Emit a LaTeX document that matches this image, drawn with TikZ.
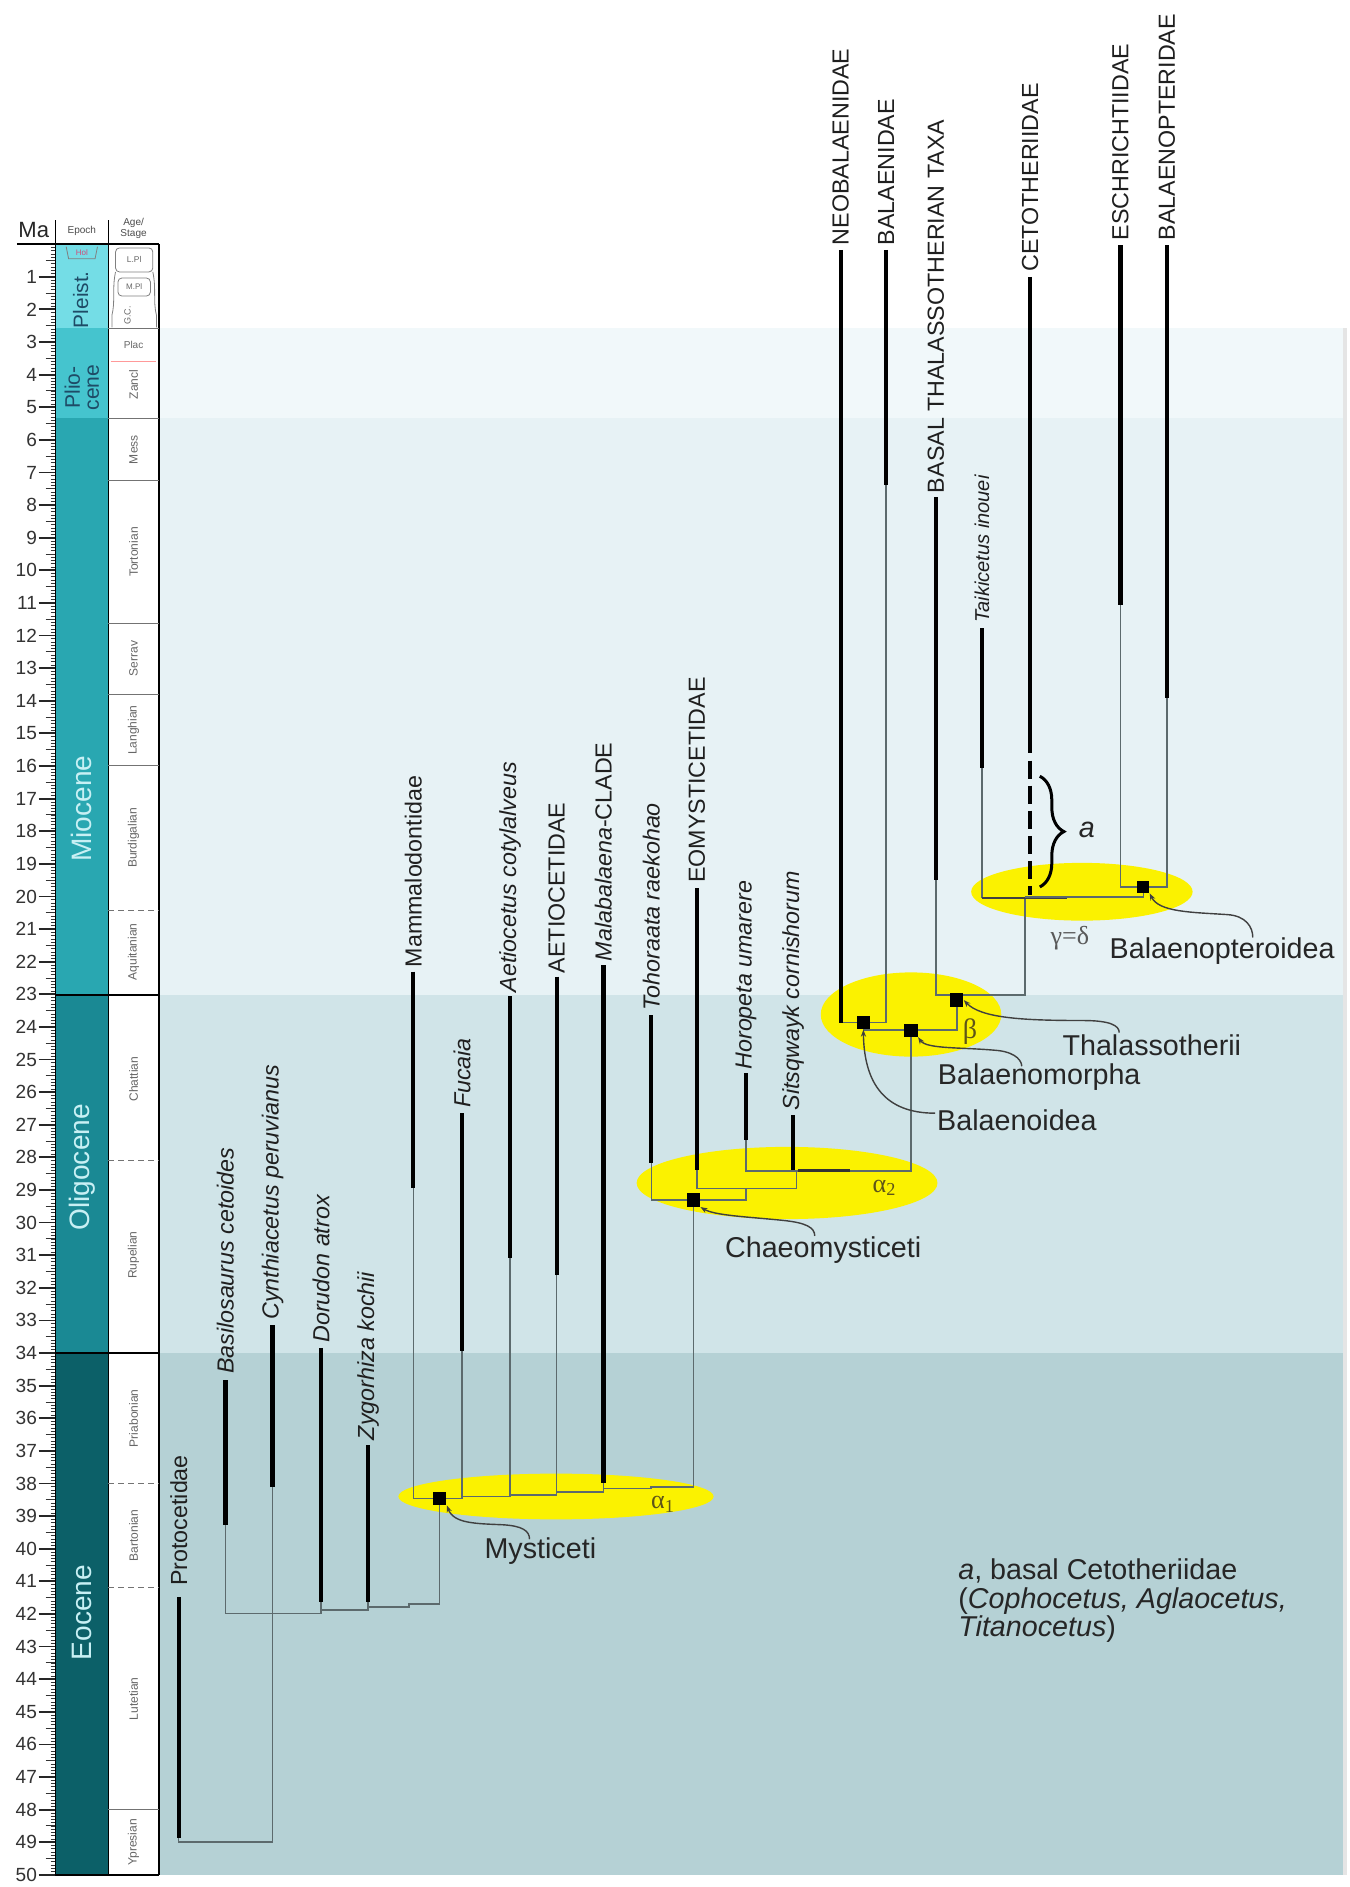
\documentclass[tikz,border=0pt]{standalone}
\usepackage{fontspec}
\setmainfont{Liberation Sans}
\newfontfamily\grk{Liberation Serif}
\usetikzlibrary{decorations.pathreplacing,arrows.meta}
\definecolor{pleist}{HTML}{74DDE6}
\definecolor{plio}{HTML}{45C4CE}
\definecolor{mio}{HTML}{29A7B1}
\definecolor{olig}{HTML}{1A8994}
\definecolor{eoc}{HTML}{0C6068}
\definecolor{bgplio}{HTML}{F1F8FA}
\definecolor{bgmio}{HTML}{E7F2F5}
\definecolor{bgolig}{HTML}{D0E4E8}
\definecolor{bgeoc}{HTML}{B5D1D5}
\definecolor{lncol}{HTML}{5C6A6D}
\definecolor{yel}{HTML}{FBF200}
\definecolor{grkc}{HTML}{5E5518}
\definecolor{epdark}{HTML}{1E4B66}
\definecolor{eplight}{HTML}{C8F0F4}
\def\mya#1{{202.9+27.1*#1}}
\tikzset{
  thk/.style={line width=2.1pt, black},
  thn/.style={line width=0.75pt, lncol},
  taxon/.style={rotate=90, anchor=west, inner sep=0pt, font=\fontsize{11.6}{13}\selectfont, text=black!88},
  itx/.style={taxon, font=\fontsize{11.6}{13}\selectfont\itshape},
  sq/.style={fill=black, inner sep=0pt, minimum size=6.6pt},
  nlab/.style={font=\fontsize{14.3}{14}\selectfont, text=black!85, inner sep=0pt},
  lead/.style={line width=0.7pt, draw=black!75, {Stealth[length=3.5pt,width=2.6pt]}-},
  grkl/.style={font=\grk\fontsize{13}{14}\selectfont, text=grkc, inner sep=0pt},
  stg/.style={font=\fontsize{6}{7}\selectfont, text=black!60, inner sep=0pt},
  eplab/.style={rotate=90, font=\fontsize{14}{15}\selectfont, text=eplight, inner sep=0pt}
}
\begin{document}
\begin{tikzpicture}[x=0.6pt,y=-0.6pt]
\useasboundingbox (0,0) rectangle (1121,1568);
\fill[white] (0,0) rectangle (1121,1568);
% background bands
\fill[bgplio] (132,\mya{2.58}) rectangle (1116,\mya{5.33});
\fill[bgmio] (132,\mya{5.33}) rectangle (1116,\mya{23.03});
\fill[bgolig] (132,\mya{23.03}) rectangle (1116,\mya{34});
\fill[bgeoc] (132,\mya{34}) rectangle (1116,\mya{50});
\fill[black!10] (1116,\mya{2.58}) rectangle (1119.5,\mya{50});
% epoch column
\fill[pleist] (46,\mya{0}) rectangle (90,\mya{2.58});
\fill[plio] (46,\mya{2.58}) rectangle (90,\mya{5.33});
\fill[mio] (46,\mya{5.33}) rectangle (90,\mya{23.03});
\fill[olig] (46,\mya{23.03}) rectangle (90,\mya{34});
\fill[eoc] (46,\mya{34}) rectangle (90,\mya{50});
% ticks
\foreach \i in {1,...,499} \draw[line width=0.35pt, black!80] (42,{202.9+2.71*\i}) -- (46,{202.9+2.71*\i});
\foreach \i in {0,...,49} \draw[line width=0.45pt, black!80] (38,{202.9+27.1*(\i+0.5)}) -- (46,{202.9+27.1*(\i+0.5)});
\foreach \i in {1,...,50} {
  \draw[line width=0.9pt, black!85] (32,\mya{\i}) -- (46,\mya{\i});
  \node[anchor=east, font=\fontsize{9.5}{10}\selectfont, text=black!80, inner sep=0pt] at (31,\mya{\i}) {\i};
}
% column frames
\draw[line width=0.8pt] (46,183) -- (46,\mya{50});
\draw[line width=0.8pt] (90,183) -- (90,\mya{50});
\draw[line width=0.8pt] (132,\mya{0}) -- (132,\mya{50});
\draw[line width=1pt] (14,\mya{0}) -- (132,\mya{0});
\draw[line width=0.8pt] (46,\mya{50}) -- (132,\mya{50});
\draw[line width=0.8pt] (46,\mya{23.03}) -- (132,\mya{23.03});
\draw[line width=0.8pt] (46,\mya{34}) -- (132,\mya{34});
% stage boundaries
\foreach \m in {2.58,5.33,7.25,11.63,13.82,15.97,48} \draw[line width=0.5pt, black!55] (90,\mya{\m}) -- (132,\mya{\m});
\draw[line width=0.5pt, red!40] (92,\mya{3.6}) -- (130,\mya{3.6});
\foreach \m in {20.44,28.1,38,41.2} \draw[line width=0.5pt, black!55, dash pattern=on 3pt off 2pt] (90,\mya{\m}) -- (132,\mya{\m});
% header
\node[font=\fontsize{11}{12}\selectfont, text=black!85, inner sep=0pt] (hma) at (28,191) {Ma};
\node[font=\fontsize{5}{6}\selectfont, text=black!70, inner sep=0pt] (hep) at (68,192) {Epoch};
\node[font=\fontsize{5}{5.5}\selectfont, text=black!70, inner sep=0pt, align=center] (hst) at (111,190) {Age/\\Stage};
% holocene and pleistocene stage marks
\draw[line width=0.4pt, black!50] (55,205) -- (57,215) -- (79,215) -- (81,205);
\node[font=\fontsize{4}{4}\selectfont, text=purple!70, inner sep=0pt] (hol) at (68,210) {Hol};
\draw[line width=0.4pt, black!50, rounded corners=2pt] (96,206) rectangle (127,226);
\node[font=\fontsize{4.2}{4}\selectfont, text=black!60, inner sep=0pt] (lpl) at (111.5,216) {L.Pl};
\draw[line width=0.4pt, black!50, rounded corners=2pt] (98,231) rectangle (125,246);
\node[font=\fontsize{4}{4}\selectfont, text=black!60, inner sep=0pt] (mpl) at (111.5,238.5) {M.Pl};
\draw[line width=0.4pt, black!50] (96,226) .. controls (93,240) and (96,250) .. (93,262) -- (93,272);
\draw[line width=0.4pt, black!50] (127,226) .. controls (130,240) and (127,250) .. (130,262) -- (130,272);
\node[stg, rotate=90, font=\fontsize{4.5}{4}\selectfont] (gc) at (106,262) {G.C.};
% stage labels
\node[stg, font=\fontsize{5}{6}\selectfont] (s1) at (111,\mya{3.1}) {Plac};
\node[stg, rotate=90] (s2) at (111,\mya{4.3}) {Zancl};
\node[stg, rotate=90] (s3) at (111,\mya{6.3}) {Mess};
\node[stg, rotate=90] (s4) at (111,\mya{9.44}) {Tortonian};
\node[stg, rotate=90] (s5) at (111,\mya{12.7}) {Serrav};
\node[stg, rotate=90] (s6) at (111,\mya{14.9}) {Langhian};
\node[stg, rotate=90] (s7) at (111,\mya{18.2}) {Burdigalian};
\node[stg, rotate=90] (s8) at (111,\mya{21.7}) {Aquitanian};
\node[stg, rotate=90] (s9) at (111,\mya{25.6}) {Chattian};
\node[stg, rotate=90] (s10) at (111,\mya{31}) {Rupelian};
\node[stg, rotate=90] (s11) at (111,\mya{36}) {Priabonian};
\node[stg, rotate=90] (s12) at (111,\mya{39.6}) {Bartonian};
\node[stg, rotate=90] (s13) at (111,\mya{44.6}) {Lutetian};
\node[stg, rotate=90] (s14) at (111,\mya{49}) {Ypresian};
% epoch labels
\node[eplab, text=epdark, font=\fontsize{10.4}{11}\selectfont] (e1) at (67,249) {Pleist.};
\node[eplab, text=epdark, font=\fontsize{10.5}{9.5}\selectfont, align=center] (e2) at (68,322) {Plio-\\cene};
\node[eplab] (e3) at (68,672) {Miocene};
\node[eplab] (e4) at (68,970) {Oligocene};
\node[eplab] (e5) at (68,1340) {Eocene};
% yellow ellipses
\fill[yel] (462,1243.5) ellipse [x radius=78.6pt, y radius=11.4pt];
\fill[yel] (654,983) ellipse [x radius=75pt, y radius=18pt];
\fill[yel] (757,843) ellipse [x radius=45pt, y radius=21pt];
\fill[yel] (899,741) ellipse [x radius=55.2pt, y radius=14.4pt];
% thin branches
\draw[thn] (148.5,1527.6) -- (148.5,1530.4) -- (226.5,1530.4) -- (226.5,1235.4);
\draw[thn] (187.3,1267) -- (187.3,1340.6) -- (266.8,1340.6) -- (266.8,1338) -- (305.8,1338) -- (305.8,1335.3) -- (340,1335.3) -- (340,1333) -- (365.4,1333) -- (365.4,1245);
\draw[thn] (266.8,1331) -- (266.8,1338);
\draw[thn] (305.8,1331) -- (305.8,1335.3);
\draw[thn] (343.5,987.5) -- (343.5,1245) -- (384,1245) -- (384,1243.7) -- (423.8,1243.7) -- (423.8,1242.3) -- (462.6,1242.3) -- (462.6,1239.6) -- (501.4,1239.6) -- (501.4,1236.8) -- (541,1236.8) -- (541,1235.4) -- (576.2,1235.4) -- (576.2,997.2);
\draw[thn] (384,1123) -- (384,1243.7);
\draw[thn] (423.8,1045.5) -- (423.8,1242.3);
\draw[thn] (462.6,1059.5) -- (462.6,1239.6);
\draw[thn] (501.4,1232.5) -- (501.4,1236.8);
\draw[thn] (541.2,966.7) -- (541.2,997.2) -- (620,997.2) -- (620,987.5);
\draw[thn] (579,972.3) -- (579,987.5) -- (662,987.5) -- (662,973);
\draw[thn] (620,947.3) -- (620,973) -- (757,973) -- (757,856);
\draw[line width=1.4pt, black!80] (663,972.5) -- (706,972.5);
\draw[thn] (717.4,849.8) -- (717.4,856) -- (795,856) -- (795,826.7);
\draw[thn] (698.5,849.8) -- (736.3,849.8) -- (736.3,403);
\draw[thn] (777.6,731) -- (777.6,826.7) -- (851.5,826.7) -- (851.5,745.5);
\draw[thn] (816,638) -- (816,746);
\draw[line width=1.1pt, black!75] (816,746) -- (887,746);
\draw[thn] (851.5,745.5) -- (950,745.5) -- (950,737);
\draw[thn] (931,503) -- (931,737) -- (969.5,737) -- (969.5,580);
% thick ranges
\draw[thk] (148.5,1327) -- (148.5,1527.6);
\draw[thk] (187.3,1147) -- (187.3,1267);
\draw[thk] (226.5,1101) -- (226.5,1235.4);
\draw[thk] (266.8,1120) -- (266.8,1331);
\draw[thk] (305.8,1201) -- (305.8,1331);
\draw[thk] (343.5,807.4) -- (343.5,987.5);
\draw[thk] (384,925) -- (384,1123);
\draw[thk] (423.8,828) -- (423.8,1045.5);
\draw[thk] (462.6,811.6) -- (462.6,1059.5);
\draw[thk] (501.4,802) -- (501.4,1232.5);
\draw[thk] (541.2,843.5) -- (541.2,966.7);
\draw[thk] (579,738) -- (579,972.3);
\draw[thk] (620,892) -- (620,947.3);
\draw[thk] (659,926.5) -- (659,972);
\draw[thk] (698.5,207.7) -- (698.5,849.8);
\draw[thk] (736.3,207.7) -- (736.3,403);
\draw[thk] (777.6,413) -- (777.6,731);
\draw[thk] (816,522) -- (816,638);
\draw[thk] (856,230) -- (856,626);
\draw[thk, dash pattern=on 9pt off 3.5pt] (856,632) -- (856,744);
\draw[thk] (931,204) -- (931,503);
\draw[thk] (969.5,204) -- (969.5,580);
% taxon labels
\node[taxon] (tx1) at (148.5,1318) {Protocetidae};
\node[itx] (tx2) at (187.3,1142) {Basilosaurus cetoides};
\node[itx] (tx3) at (226.5,1097) {Cynthiacetus peruvianus};
\node[itx] (tx4) at (266.8,1116) {Dorudon atrox};
\node[itx] (tx5) at (305.8,1197) {Zygorhiza kochii};
\node[taxon] (tx6) at (343.5,804) {Mammalodontidae};
\node[itx] (tx7) at (384,921) {Fucaia};
\node[itx] (tx8) at (423.8,825) {Aetiocetus cotylalveus};
\node[taxon] (tx9) at (462.6,809) {AETIOCETIDAE};
\node[taxon] (tx10) at (501.4,799) {\textit{Malabalaena}-CLADE};
\node[itx] (tx11) at (541.2,840) {Tohoraata raekohao};
\node[taxon] (tx12) at (579,734) {EOMYSTICETIDAE};
\node[itx] (tx13) at (620,889) {Horopeta umarere};
\node[itx] (tx14) at (659,923) {Sitsqwayk cornishorum};
\node[taxon] (tx15) at (698.5,204) {NEOBALAENIDAE};
\node[taxon] (tx16) at (736.3,204) {BALAENIDAE};
\node[taxon] (tx17) at (777.6,410) {BASAL THALASSOTHERIAN TAXA};
\node[itx, font=\fontsize{10}{11}\selectfont\itshape] (tx18) at (816,518) {Taikicetus inouei};
\node[taxon] (tx19) at (856,226) {CETOTHERIIDAE};
\node[taxon] (tx20) at (931,200) {ESCHRICHTIIDAE};
\node[taxon] (tx21) at (969.5,200) {BALAENOPTERIDAE};
% node squares
\node[sq] (sqM) at (365.4,1245) {};
\node[sq] (sqC) at (576.2,997.2) {};
\node[sq] (sqBo) at (717.4,849.8) {};
\node[sq] (sqBm) at (757,856) {};
\node[sq] (sqT) at (795,831) {};
\node[sq, minimum size=6pt] (sqBp) at (950,737) {};
% greek labels
\node[grkl] (al1) at (551,1250) {α\textsubscript{1}};
\node[grkl] (al2) at (735,987) {α\textsubscript{2}};
\node[grkl, font=\grk\fontsize{14}{14}\selectfont] (be) at (806,857) {β};
\node[grkl, text=black!65] (gd) at (889,779.5) {γ=δ};
% brace
\draw[decorate, decoration={brace, amplitude=12pt}, line width=1.5pt] (864,645) -- (864,737);
\node[nlab, font=\fontsize{14.3}{14}\selectfont\itshape] (abr) at (903,690) {a};
% clade labels
\node[nlab] (tM) at (449,1289) {Mysticeti};
\node[nlab] (tC) at (684,1038.5) {Chaeomysticeti};
\node[nlab] (tBo) at (845,930.7) {Balaenoidea};
\node[nlab] (tBm) at (863.5,894.7) {Balaenomorpha};
\node[nlab, anchor=west] (tT) at (882.6,868.4) {Thalassotherii};
\node[nlab] (tBp) at (1015.5,790) {Balaenopteroidea};
% leaders
\draw[lead] (sqM.south east) .. controls (377,1266) and (395,1266) .. (418,1267) .. controls (434,1268) and (440,1272) .. (440,1279);
\draw[lead] (sqC.south east) .. controls (594,1010) and (620,1011) .. (650,1014) .. controls (670,1016) and (677,1020) .. (677,1027);
\draw[lead] (sqBo.south) .. controls (718,900) and (735,925) .. (777,925);
\draw[lead] (sqBm.south east) .. controls (770,872) and (800,870) .. (830,873) .. controls (845,875) and (849,882) .. (849,886);
\draw[lead] (sqT.east) .. controls (815,846) and (850,848) .. (900,848) .. controls (922,848) and (930,852) .. (930,858);
\draw[lead] (sqBp.south east) .. controls (963,758) and (990,758) .. (1020,760) .. controls (1035,761) and (1041,770) .. (1041,779);
% note
\node[nlab, anchor=west, align=left] (note) at (796,1330) {\textit{a}, basal Cetotheriidae\\(\textit{Cophocetus, Aglaocetus,}\\\textit{Titanocetus})};
\end{tikzpicture}
\end{document}
